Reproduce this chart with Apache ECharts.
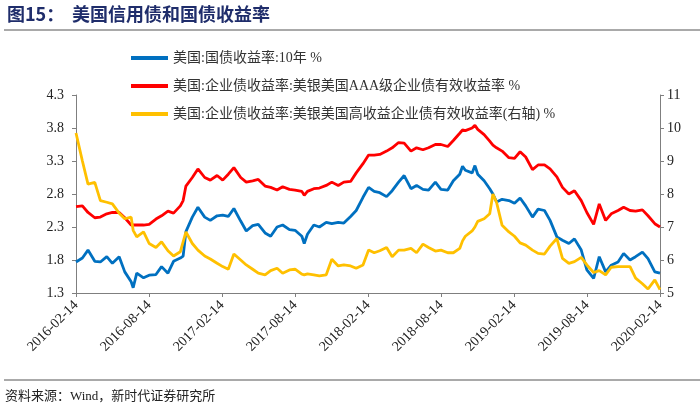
<!DOCTYPE html>
<html>
<head>
<meta charset="utf-8">
<script src="https://cdn.jsdelivr.net/npm/echarts@6/dist/echarts.min.js"></script>
<style>html,body{margin:0;padding:0;background:#fff}#c{width:700px;height:414px}</style>
</head>
<body>
<div id="c"></div>
<script>
var dates = ['2016-02-14','2016-03-01','2016-03-15','2016-04-01','2016-04-15','2016-05-01','2016-05-15','2016-06-01','2016-06-15','2016-07-01','2016-07-06','2016-07-15','2016-08-01','2016-08-15','2016-09-01','2016-09-15','2016-10-01','2016-10-15','2016-11-01','2016-11-08','2016-11-15','2016-12-01','2016-12-15',
'2017-01-01','2017-01-15','2017-02-01','2017-02-15','2017-03-01','2017-03-15','2017-04-01','2017-04-15','2017-05-01','2017-05-15','2017-06-01','2017-06-15','2017-07-01','2017-07-15','2017-08-01','2017-08-15','2017-09-01','2017-09-07','2017-09-15','2017-10-01','2017-10-15','2017-11-01','2017-11-15','2017-12-01','2017-12-15',
'2018-01-01','2018-01-15','2018-02-01','2018-02-15','2018-03-01','2018-03-15','2018-04-01','2018-04-15','2018-05-01','2018-05-15','2018-06-01','2018-06-15','2018-07-01','2018-07-15','2018-08-01','2018-08-15','2018-09-01','2018-09-15','2018-10-01','2018-10-08','2018-10-15','2018-11-01','2018-11-08','2018-11-15','2018-12-01','2018-12-15','2018-12-23',
'2019-01-01','2019-01-15','2019-02-01','2019-02-15','2019-03-01','2019-03-15','2019-04-01','2019-04-15','2019-05-01','2019-05-15','2019-06-01','2019-06-15','2019-07-01','2019-07-15','2019-08-01','2019-08-15','2019-09-01','2019-09-15','2019-10-01','2019-10-15','2019-11-01','2019-11-15','2019-12-01','2019-12-15',
'2020-01-01','2020-01-15','2020-02-01','2020-02-14'];

var treasury10y = [1.77,1.83,1.95,1.78,1.77,1.85,1.75,1.85,1.62,1.47,1.38,1.60,1.53,1.57,1.58,1.70,1.60,1.78,1.83,1.86,2.23,2.45,2.60,
2.45,2.40,2.47,2.48,2.46,2.58,2.39,2.24,2.32,2.34,2.21,2.16,2.30,2.33,2.26,2.25,2.16,2.05,2.19,2.33,2.30,2.37,2.35,2.37,2.36,
2.46,2.55,2.75,2.90,2.84,2.82,2.76,2.85,2.98,3.08,2.88,2.93,2.87,2.86,2.98,2.87,2.86,3.00,3.10,3.22,3.16,3.12,3.23,3.10,3.00,2.88,2.80,
2.68,2.72,2.70,2.66,2.74,2.62,2.45,2.57,2.55,2.40,2.15,2.10,2.05,2.12,1.95,1.65,1.52,1.85,1.62,1.72,1.77,1.90,1.80,1.85,
1.92,1.82,1.62,1.60];

var aaaYield = [2.61,2.62,2.52,2.44,2.45,2.50,2.52,2.52,2.44,2.33,2.30,2.33,2.33,2.34,2.42,2.47,2.54,2.51,2.62,2.70,2.92,3.05,3.18,
3.05,3.01,3.08,3.01,3.10,3.20,3.05,2.98,3.00,3.02,2.92,2.90,2.86,2.91,2.87,2.86,2.84,2.78,2.84,2.88,2.89,2.93,2.98,2.93,2.98,
2.99,3.12,3.26,3.39,3.39,3.40,3.45,3.50,3.58,3.57,3.45,3.50,3.47,3.50,3.55,3.55,3.52,3.61,3.72,3.77,3.76,3.80,3.84,3.78,3.70,3.60,3.54,
3.50,3.45,3.35,3.34,3.44,3.36,3.17,3.24,3.24,3.18,3.06,2.90,2.80,2.85,2.70,2.52,2.34,2.65,2.40,2.50,2.55,2.60,2.55,2.54,
2.56,2.47,2.35,2.30];

var highYield = [9.85,9.00,8.30,8.35,7.80,7.75,7.70,7.42,7.25,7.30,6.90,6.70,6.85,6.50,6.38,6.55,6.28,6.12,6.25,6.55,6.85,6.50,6.30,
6.12,6.03,5.90,5.80,5.72,6.18,6.00,5.85,5.72,5.60,5.55,5.68,5.75,5.60,5.70,5.72,5.57,5.55,5.58,5.55,5.52,5.55,6.02,5.82,5.85,
5.82,5.75,5.85,6.30,6.22,6.28,6.38,6.10,6.30,6.30,6.35,6.22,6.48,6.38,6.27,6.30,6.22,6.22,6.35,6.58,6.72,6.88,7.00,7.17,7.25,7.40,8.00,
7.75,7.05,6.85,6.72,6.52,6.45,6.30,6.20,6.18,6.42,6.65,6.05,5.90,5.95,6.08,5.85,5.62,5.68,5.55,5.78,5.80,5.80,5.80,5.45,
5.28,5.12,5.40,5.10];

var xTickLabels = ['2016-02-14','2016-08-14','2017-02-14','2017-08-14','2018-02-14','2018-08-14','2019-02-14','2019-08-14','2020-02-14'];
var seriesNames = ['美国:国债收益率:10年 %','美国:企业债收益率:美银美国AAA级企业债有效收益率 %','美国:企业债收益率:美银美国高收益企业债有效收益率(右轴) %'];

var DAY = 86400000;
var t0 = Date.parse(xTickLabels[0]);
var tEnd = Date.parse(xTickLabels[xTickLabels.length - 1]);
var span = (tEnd - t0) / DAY;
var step = span / (xTickLabels.length - 1);
function pairs(vals) {
  return dates.map(function (d, i) { return [(Date.parse(d) - t0) / DAY, vals[i]]; });
}

var serif = "'Liberation Serif','Times New Roman','Noto Sans CJK SC',serif";
var axisGray = '#7f7f7f';
var chart = echarts.init(document.getElementById('c'));
chart.setOption({
  animation: false,
  backgroundColor: '#fff',
  graphic: [
    { type: 'text', left: 7, top: 5, style: { text: '图15：', font: "bold 18px 'Noto Sans CJK SC',sans-serif", fill: '#1f2d6b' } },
    { type: 'text', left: 72, top: 5, style: { text: '美国信用债和国债收益率', font: "bold 18px 'Noto Sans CJK SC',sans-serif", fill: '#1f2d6b' } },
    { type: 'line', shape: { x1: 4, y1: 30, x2: 700, y2: 30 }, style: { stroke: '#555', lineWidth: 1 } },
    { type: 'line', shape: { x1: 4, y1: 380, x2: 700, y2: 380 }, style: { stroke: '#555', lineWidth: 1 } },
    { type: 'text', left: 5, top: 390, style: { text: '资料来源：Wind，新时代证券研究所', font: "13px 'Liberation Serif','Noto Sans CJK SC',serif", fill: '#222' } }
  ],
  legend: {
    orient: 'vertical',
    left: 126, top: 46,
    itemWidth: 37, itemHeight: 4,
    itemGap: 14,
    icon: 'rect',
    textStyle: { fontFamily: serif, fontSize: 14, color: '#333', lineHeight: 14 },
    data: seriesNames
  },
  grid: { left: 76, right: 40, top: 95, bottom: 121, containLabel: false },
  xAxis: {
    type: 'value',
    min: 0, max: span, interval: step,
    axisLine: { show: true, lineStyle: { color: axisGray } },
    axisTick: { show: true, length: 4, lineStyle: { color: axisGray } },
    splitLine: { show: false },
    axisLabel: {
      rotate: 45, fontFamily: serif, fontSize: 14, color: '#222', margin: 10,
      formatter: function (v) { return xTickLabels[Math.round(v / step)] || ''; }
    }
  },
  yAxis: [
    {
      type: 'value', min: 1.3, max: 4.3, interval: 0.5,
      axisLine: { show: true, lineStyle: { color: axisGray } },
      axisTick: { show: true, length: 4, lineStyle: { color: axisGray } },
      splitLine: { show: false },
      axisLabel: { fontFamily: serif, fontSize: 14, color: '#222', margin: 12, formatter: function (v) { return v.toFixed(1); } }
    },
    {
      type: 'value', min: 5, max: 11, interval: 1,
      axisLine: { show: true, lineStyle: { color: axisGray } },
      axisTick: { show: true, length: 4, lineStyle: { color: axisGray } },
      splitLine: { show: false },
      axisLabel: { fontFamily: serif, fontSize: 14, color: '#222', margin: 7 }
    }
  ],
  series: [
    { name: seriesNames[0], type: 'line', yAxisIndex: 0, data: pairs(treasury10y), showSymbol: false, lineStyle: { width: 2.8, color: '#0070c0' }, itemStyle: { color: '#0070c0' } },
    { name: seriesNames[1], type: 'line', yAxisIndex: 0, data: pairs(aaaYield), showSymbol: false, lineStyle: { width: 2.8, color: '#ff0000' }, itemStyle: { color: '#ff0000' } },
    { name: seriesNames[2], type: 'line', yAxisIndex: 1, data: pairs(highYield), showSymbol: false, lineStyle: { width: 2.8, color: '#ffc000' }, itemStyle: { color: '#ffc000' } }
  ]
});
</script>
</body>
</html>
